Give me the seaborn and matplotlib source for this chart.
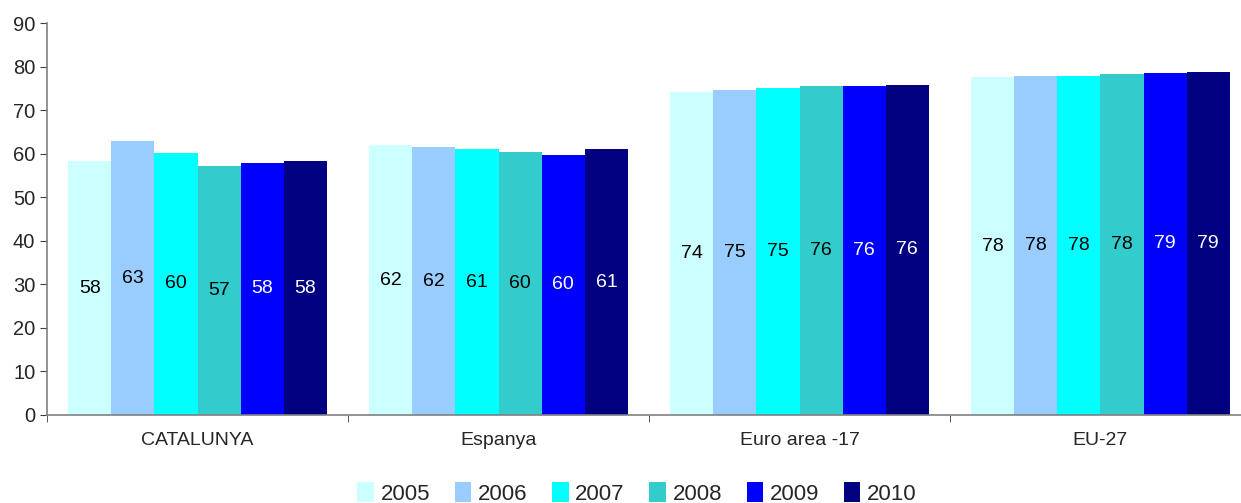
import matplotlib
matplotlib.use("Agg")
import matplotlib.pyplot as plt
import seaborn as sns
import pandas as pd
import numpy as np

regions = ["CATALUNYA", "Espanya", "Euro area -17", "EU-27"]
years = ["2005", "2006", "2007", "2008", "2009", "2010"]

v2005 = [58.3, 61.9, 74.1, 77.6]
v2006 = [62.9, 61.5, 74.6, 77.8]
v2007 = [60.2, 61.0, 75.1, 77.9]
v2008 = [57.2, 60.3, 75.5, 78.3]
v2009 = [57.9, 59.8, 75.6, 78.6]
v2010 = [58.3, 61.0, 75.8, 78.8]

colors = ["#CCFFFF", "#99CCFF", "#00FFFF", "#33CCCC", "#0000FF", "#000080"]
label_colors = ["black", "black", "black", "black", "white", "white"]

series = [v2005, v2006, v2007, v2008, v2009, v2010]
rows = []
for yr, vals in zip(years, series):
    for reg, v in zip(regions, vals):
        rows.append({"region": reg, "year": yr, "value": v})
df = pd.DataFrame(rows)

sns.set_style("white")
plt.rcParams["font.family"] = ["Liberation Sans", "DejaVu Sans"]

fig = plt.figure(figsize=(12.41, 5.03), dpi=100)
ax = fig.add_axes([0.038, 0.175, 0.97, 0.779])

sns.barplot(data=df, x="region", y="value", hue="year", order=regions,
            hue_order=years, palette=colors, saturation=1, width=0.86,
            gap=0, errorbar=None, linewidth=0, ax=ax)

for cont, lc in zip(ax.containers, label_colors):
    for bar in cont:
        h = bar.get_height()
        ax.text(bar.get_x() + bar.get_width() / 2, h / 2, f"{h:.0f}",
                ha="center", va="center", fontsize=14, color=lc)

ax.set_xlim(-0.5, 3.5)
ax.set_ylim(0, 90)
ax.set_yticks(range(0, 91, 10))
ax.set_xlabel("")
ax.set_ylabel("")

for s in ["top", "right"]:
    ax.spines[s].set_visible(False)
for s in ["left", "bottom"]:
    ax.spines[s].set_color("#808080")
    ax.spines[s].set_linewidth(1.2)

ax.tick_params(axis="y", which="major", direction="out", length=5,
               color="#404040", labelsize=14.5, left=True)
ax.tick_params(axis="x", which="major", length=0, labelsize=14, pad=12)
ax.set_xticks(np.arange(-0.5, 3.6, 1.0), minor=True)
ax.tick_params(axis="x", which="minor", direction="out", length=5,
               color="#404040", bottom=True)

leg = ax.legend(loc="upper center", bbox_to_anchor=(0.49, -0.12), ncol=6,
                frameon=False, fontsize=16, handlelength=0.75,
                handleheight=1.0, handletextpad=0.3, columnspacing=1.1)

fig.savefig("out.png", dpi=100)
